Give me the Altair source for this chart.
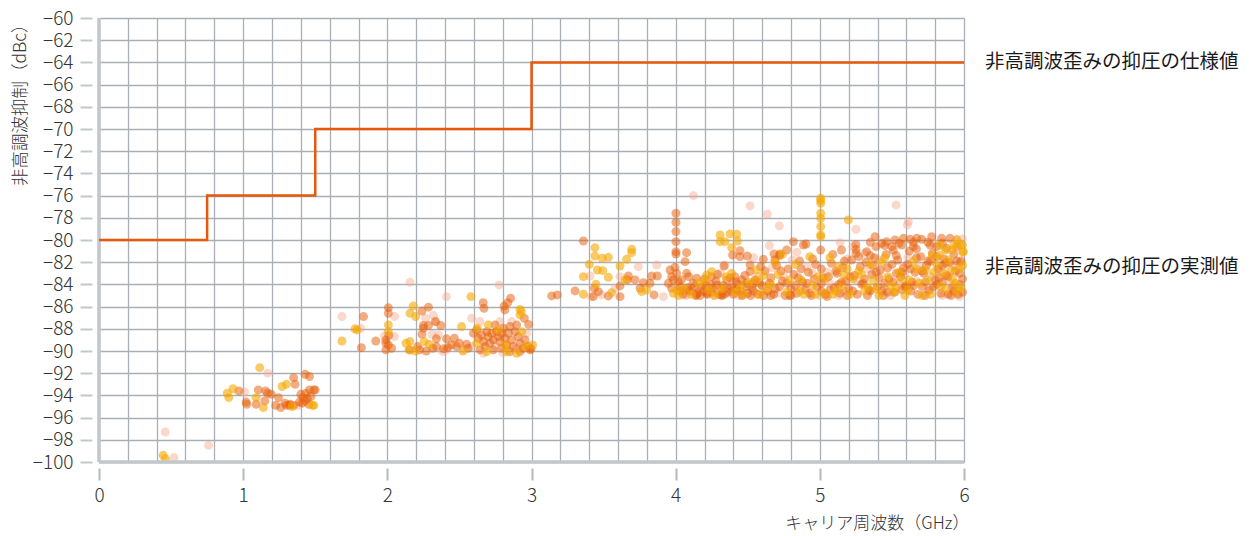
import altair as alt
import pandas as pd

FONT = "Noto Sans CJK JP"

# Specification step line (GHz, dBc)
spec_x = [0, 0.75, 1.5, 3, 6]
spec_y = [-80, -76, -70, -64, -64]

# Measured points, three series
orange_pts = [
    (1.43,-92.1),(1.46,-92.3),(1.35,-92.4),(1.36,-93.0),(0.97,-93.6),(1.105,-93.5),(1.155,-93.6),(1.17,-93.8),
    (1.195,-93.9),(1.245,-94.2),(1.02,-94.6),(1.025,-94.8),(1.09,-94.8),(1.15,-94.5),(1.225,-94.9),(1.26,-95.1),
    (1.29,-94.7),(1.32,-94.9),(1.325,-94.8),(1.40,-93.9),(1.415,-94.2),(1.435,-93.8),(1.445,-94.3),(1.46,-93.5),
    (1.49,-93.5),(1.50,-93.5),(1.41,-94.7),(1.455,-94.8),(1.39,-94.6),(1.43,-94.5),(1.47,-94.1),(1.35,-94.9),(1.30,-94.9),
    (2.665,-85.65),(2.67,-86.15),(2.855,-85.25),(2.835,-85.65),(2.81,-85.95),(2.815,-86.3),(2.95,-87.05),(2.98,-87.6),
    (1.835,-86.9),(1.82,-89.7),(1.92,-89.1),(2.007,-86.1),(2.007,-86.6),(2.01,-88.6),(1.99,-89.0),(1.99,-89.3),
    (1.99,-89.9),(2.007,-89.45),(2.03,-89.75),(2.24,-86.4),(2.285,-86.05),(2.25,-87.7),(2.25,-87.95),(2.285,-87.7),
    (2.335,-87.35),(2.37,-87.7),(2.24,-88.5),(2.34,-88.9),(2.41,-88.9),(2.465,-88.85),(2.157,-89.9),(2.21,-89.6),
    (2.225,-89.9),(2.27,-90.0),(2.315,-89.75),(2.34,-89.6),(2.39,-89.8),(2.42,-89.7),(2.445,-89.45),(2.48,-89.6),
    (2.5,-89.3),(2.55,-89.4),(2.56,-89.75),
    (2.597,-88.41),(2.62,-88.1),(2.631,-88.86),(2.654,-88.56),(2.666,-89.16),(2.689,-88.26),(2.701,-88.71),
    (2.712,-89.31),(2.724,-88.41),(2.735,-89.0),(2.747,-87.65),(2.758,-88.26),(2.77,-88.7),(2.781,-89.16),
    (2.793,-88.4),(2.805,-87.95),(2.816,-88.86),(2.828,-89.46),(2.84,-88.4),(2.851,-87.8),(2.862,-89.0),
    (2.874,-89.6),(2.886,-88.26),(2.909,-88.7),(2.92,-89.3),(2.943,-89.76),(2.955,-89.0),(2.978,-89.6),
    (2.99,-89.9),(2.678,-89.6),(2.643,-89.9),(2.735,-89.9),(2.793,-89.76),(2.851,-90.06),(2.92,-90.06),
    (2.997,-89.8),(2.897,-87.65),(3.14,-85.04),(3.179,-84.95),
    (4.002,-77.59),(4.002,-78.4),(4.002,-79.24),(4.002,-80.15),(4.002,-81.05),(4.002,-81.26),(3.36,-80.09),
    (3.302,-84.59),(3.436,-84.35),(3.464,-84.65),(3.429,-85.1),(3.533,-85.04),(3.614,-84.14),(3.614,-85.1),
    (3.672,-83.24),(3.665,-83.6),(3.718,-83.6),(3.776,-83.84),(3.753,-84.35),(3.822,-83.9),(3.85,-84.95),
    (3.873,-83.24),(3.834,-83.24),(3.961,-82.7),(3.995,-82.46),(3.972,-83.3),(4.007,-83.0),(3.984,-83.6),
    (4.018,-83.75),(3.949,-83.9),(4.03,-84.2),(3.972,-84.35),(4.076,-81.14),(4.065,-81.95),(4.076,-83.0),
    (4.146,-83.45),(4.088,-84.5),(4.146,-84.95),(4.192,-84.65),(4.25,-83.3),(4.285,-84.05),(4.319,-84.35),
    (4.354,-83.6),(4.388,-84.2),(4.423,-84.5),(4.458,-83.6),(4.493,-84.2),(4.539,-83.9),(4.446,-81.5),
    (4.516,-82.85),(4.215,-84.8),(4.319,-84.95),(4.446,-80.96),(4.395,-81.35),(4.516,-82.25),(4.335,-82.34),
    (4.497,-81.44),
    (5.006,-80.9),(5.251,-80.84),(4.817,-80.15),(4.886,-80.45),(4.904,-80.36),(4.77,-80.9),(4.724,-81.26),
    (4.682,-81.26),(4.608,-81.74),(4.689,-81.8),(5.383,-79.7),(5.429,-80.3),(5.464,-80.15),(5.522,-80.0),
    (5.58,-79.85),(5.626,-79.94),(5.672,-79.85),(5.707,-79.94),(5.776,-79.7),(5.845,-79.85),(5.903,-79.85),
    (5.499,-80.6),(5.568,-80.45),(5.649,-80.6),(5.765,-80.45),(5.811,-80.6),(5.88,-80.75),(5.95,-80.6),
    (5.39,-80.6),(5.325,-81.05),
    (4.05,-84.9),(4.10,-84.6),(4.12,-83.9),(4.15,-84.8),(4.18,-84.2),(4.20,-83.5),(4.22,-84.9),(4.26,-84.4),
    (4.28,-83.7),(4.30,-84.9),(4.33,-84.1),(4.36,-84.7),(4.38,-83.4),(4.40,-84.9),(4.43,-84.0),(4.45,-84.6),
    (4.48,-83.2),(4.50,-84.8),(4.53,-84.3),(4.55,-83.6),(4.57,-84.9),(4.60,-84.1),(4.62,-82.8),(4.64,-84.6),
    (4.66,-83.4),(4.68,-84.9),(4.70,-82.3),(4.72,-84.2),(4.74,-83.7),(4.76,-85.0),(4.78,-82.6),(4.80,-84.4),
    (4.82,-83.1),(4.84,-84.8),(4.86,-81.9),(4.88,-83.8),(4.90,-84.5),(4.92,-82.9),(4.94,-85.0),(4.96,-83.5),
    (4.98,-84.2),(5.01,-83.9),(5.01,-84.6),(5.01,-82.6),(5.04,-84.9),(5.06,-83.3),(5.08,-82.1),(5.10,-84.3),
    (5.12,-83.0),(5.14,-84.8),(5.16,-82.5),(5.18,-83.7),(5.20,-84.4),(5.22,-81.8),(5.24,-83.2),(5.26,-84.9),
    (5.28,-82.4),(5.30,-83.9),(5.32,-82.0),(5.34,-84.5),(5.36,-83.1),(5.38,-81.6),(5.40,-84.2),(5.42,-82.7),
    (5.44,-85.0),(5.46,-81.3),(5.48,-83.5),(5.50,-82.2),(5.52,-84.7),(5.54,-81.8),(5.56,-83.3),(5.58,-82.5),
    (5.60,-84.1),(5.62,-81.0),(5.64,-83.8),(5.66,-82.9),(5.68,-84.9),(5.70,-81.5),(5.72,-83.0),(5.74,-82.3),
    (5.76,-84.5),(5.78,-81.2),(5.80,-83.6),(5.82,-82.6),(5.84,-84.8),(5.86,-81.7),(5.88,-83.2),(5.90,-82.0),
    (5.92,-84.3),(5.94,-82.8),(5.96,-84.9),(5.98,-81.9),(5.99,-83.5),
    (4.04,-83.6),(4.08,-84.3),(4.14,-85.0),(4.24,-84.0),(4.34,-84.9),(4.42,-83.8),(4.52,-85.0),(4.58,-83.9),
    (4.66,-85.0),(4.72,-81.4),(4.80,-85.0),(4.85,-83.4),(4.95,-81.7),(5.05,-85.1),(5.15,-83.8),(5.25,-81.2),
    (5.33,-85.0),(5.39,-82.9),(5.45,-83.9),(5.51,-80.9),(5.57,-84.5),(5.61,-82.2),(5.67,-80.8),(5.71,-84.2),
    (5.75,-81.9),(5.81,-84.0),(5.85,-82.3),(5.89,-84.9),(5.93,-81.3),(5.97,-83.0),(5.47,-84.7),(5.53,-83.0),
    (5.63,-84.6),(5.73,-85.0),(5.83,-83.4),(5.91,-85.0),(5.35,-81.4),(5.29,-84.0),(5.19,-85.0),(5.09,-81.3),
    (4.03,-84.6),(4.09,-83.3),(4.13,-84.2),(4.17,-85.0),(4.21,-84.1),(4.25,-84.7),(4.29,-83.1),(4.32,-85.0),
    (4.37,-84.4),(4.41,-83.3),(4.46,-85.0),(4.49,-83.9),(4.54,-84.6),(4.59,-82.4),(4.61,-85.0),(4.65,-83.9),
    (4.69,-84.4),(4.73,-82.8),(4.77,-83.9),(4.79,-85.0),(4.83,-84.1),(4.87,-82.6),(4.91,-83.9),(4.93,-84.8),
    (4.97,-82.2),(5.02,-83.4),(5.07,-84.5),(5.11,-82.8),(5.13,-84.0),(5.17,-81.9),(5.21,-83.3),(5.23,-84.6),
    (5.27,-81.5),(5.31,-83.5),(5.35,-84.6),(5.37,-82.3),(5.41,-83.4),(5.43,-84.6),(5.47,-82.5),(5.51,-83.8),
    (5.53,-81.4),(5.57,-82.9),(5.59,-84.2),(5.63,-82.6),(5.65,-84.1),(5.67,-81.6),(5.71,-82.8),(5.73,-83.8),
    (5.77,-81.9),(5.79,-84.2),(5.81,-81.5),(5.85,-83.8),(5.87,-82.1),(5.89,-83.3),(5.93,-84.6),(5.95,-81.9),
    (5.97,-84.0),(5.99,-84.7),(5.55,-80.3),(5.45,-80.5),(5.65,-80.2),(5.75,-80.2),(5.85,-80.3),(5.35,-80.2),
    (5.25,-80.4),(5.15,-80.9),
]

gold_pts = [
    (1.115,-91.5),(1.27,-93.2),(1.30,-93.0),(0.93,-93.4),(0.89,-93.8),(0.90,-94.2),(1.09,-94.2),(1.14,-95.1),
    (1.48,-94.9),(1.49,-94.9),(0.445,-99.4),(0.46,-99.7),(1.34,-95.0),
    (2.58,-85.1),(2.92,-86.25),(2.93,-86.45),(2.92,-86.75),(1.775,-88.0),(1.79,-88.1),(1.685,-89.1),
    (2.007,-87.65),(2.007,-88.25),(2.18,-85.95),(2.157,-86.6),(2.197,-86.9),(2.515,-87.8),(2.13,-89.3),
    (2.157,-89.15),(2.255,-89.15),(2.29,-89.4),(2.525,-90.0),(2.15,-89.9),(2.195,-90.0),(2.624,-87.95),
    (2.701,-87.65),(2.77,-88.1),(2.816,-89.46),(2.897,-90.2),(2.932,-88.26),(2.955,-89.6),(3.008,-89.46),
    (2.828,-90.06),(2.689,-90.06),(2.62,-89.3),
    (3.44,-80.69),(3.44,-81.44),(3.491,-81.65),(3.533,-81.56),(3.695,-80.84),(3.695,-81.14),(3.66,-81.74),
    (3.401,-82.19),(3.457,-82.7),(3.494,-82.76),(3.36,-83.3),(3.533,-83.36),(3.447,-83.99),(3.614,-82.34),
    (3.649,-83.6),(3.36,-84.89),(3.556,-84.74),(3.799,-84.5),(4.007,-84.5),(3.984,-84.8),(3.764,-84.65),
    (4.308,-79.55),(4.377,-79.45),(4.423,-79.48),(4.342,-80.15),(4.308,-80.15),(4.428,-80.09),(4.388,-80.69),
    (4.215,-83.15),(4.25,-82.85),(4.203,-83.6),(4.388,-83.0),(4.562,-83.6),
    (5.006,-76.24),(5.006,-76.45),(5.006,-76.69),(5.006,-77.59),(5.006,-78.04),(5.006,-78.79),(5.006,-79.54),
    (5.006,-79.7),(5.198,-78.19),(5.834,-80.45),(5.95,-80.0),(5.99,-80.45),(5.915,-80.9),(5.996,-81.05),
    (4.06,-84.4),(4.16,-83.9),(4.27,-85.0),(4.35,-83.3),(4.47,-84.9),(4.56,-82.7),(4.63,-84.4),(4.71,-83.1),
    (4.77,-84.7),(4.83,-82.2),(4.89,-84.9),(4.93,-81.5),(4.99,-83.3),(5.03,-84.8),(5.07,-81.6),(5.11,-84.6),
    (5.17,-83.2),(5.21,-84.9),(5.27,-82.8),(5.31,-84.6),(5.37,-83.6),(5.41,-85.0),(5.43,-82.0),(5.49,-84.1),
    (5.55,-82.9),(5.59,-85.0),(5.65,-81.9),(5.69,-83.9),(5.73,-82.7),(5.77,-84.9),(5.79,-82.9),(5.83,-81.4),
    (5.87,-84.4),(5.91,-82.7),(5.95,-84.6),(5.99,-82.3),(5.97,-80.4),(5.99,-81.1),(5.94,-83.9),(5.86,-83.0),
    (5.62,-83.6),(5.53,-84.3),(5.45,-81.6),(5.39,-84.4),(5.23,-83.5),(5.13,-82.4),(4.97,-84.9),(4.87,-83.6),
    (4.61,-83.2),(4.45,-84.2),(4.74,-81.3),(4.69,-82.0),
    (4.02,-85.0),(4.11,-84.9),(4.23,-84.5),(4.32,-84.4),(4.41,-84.7),(4.51,-83.8),(4.58,-84.9),(4.66,-84.0),
    (4.79,-83.6),(4.86,-84.6),(4.95,-84.1),(5.04,-83.5),(5.09,-84.9),(5.15,-84.3),(5.19,-82.6),(5.29,-83.1),
    (5.33,-84.2),(5.35,-82.2),(5.47,-83.3),(5.51,-84.7),(5.57,-83.5),(5.61,-84.5),(5.67,-82.6),(5.71,-85.0),
    (5.75,-83.6),(5.81,-82.2),(5.84,-84.2),(5.89,-81.8),(5.92,-83.5),(5.97,-82.6),(5.98,-84.3),(5.93,-80.5),
    (5.87,-80.9),(5.78,-81.4),
]

pale_pts = [
    (1.17,-92.0),(1.01,-93.7),(1.385,-94.9),(0.46,-97.3),(0.76,-98.5),(0.52,-99.6),
    (2.157,-83.8),(2.775,-84.05),(2.41,-85.1),(1.685,-86.9),(1.815,-87.95),(2.05,-86.9),(2.05,-88.7),
    (1.98,-88.65),(2.265,-87.05),(2.32,-86.8),(2.33,-87.35),(2.31,-88.5),(2.355,-88.55),(2.385,-90.05),
    (2.41,-89.9),(2.525,-89.9),(2.585,-87.05),(2.643,-87.35),(2.781,-87.35),(2.862,-87.35),(2.966,-88.4),
    (2.747,-89.6),(2.666,-90.2),(2.585,-89.6),(2.897,-89.76),(2.8,-90.15),
    (4.123,-76.0),(4.516,-76.93),(3.406,-83.24),(3.741,-82.4),(3.868,-82.25),(3.614,-83.3),(3.915,-85.1),
    (3.413,-85.1),(3.487,-84.95),(3.579,-84.35),(4.342,-82.25),(4.469,-84.95),(4.261,-84.95),(4.076,-84.95),
    (4.636,-77.68),(4.719,-78.73),(5.251,-79.03),(5.529,-76.84),(5.614,-78.34),(5.607,-78.64),(5.14,-80.24),
    (5.95,-79.94),
    (4.07,-85.0),(4.19,-84.5),(4.31,-83.0),(4.44,-85.0),(4.54,-81.6),(4.59,-84.7),(4.67,-82.5),(4.75,-83.3),
    (4.81,-81.8),(4.87,-84.2),(4.91,-82.4),(5.00,-85.0),(5.05,-82.9),(5.13,-85.0),(5.19,-81.7),(5.25,-83.6),
    (5.33,-82.6),(5.41,-81.8),(5.49,-85.0),(5.55,-84.0),(5.61,-81.6),(5.69,-82.3),(5.77,-83.3),(5.85,-85.0),
    (5.93,-82.3),(5.97,-85.1),(5.99,-79.9),(5.79,-80.3),(5.23,-80.6),(4.84,-81.1),(4.65,-80.5),
    (4.15,-84.3),(4.39,-84.6),(4.57,-83.3),(4.71,-84.8),(4.95,-83.0),(5.07,-83.9),(5.17,-84.6),(5.31,-81.2),
    (5.45,-84.3),(5.59,-83.1),(5.67,-83.7),(5.75,-84.6),(5.83,-82.8),(5.91,-83.9),(5.97,-82.0),
]

groups = ["pale", "orange", "gold"]
group_colors = ["#f5a98c", "#e8620c", "#f5a600"]
group_opacity = [0.45, 0.6, 0.65]

y_ticks = list(range(-100, -59, 2))
x_grid = [round(i * 0.2, 1) for i in range(31)]

labels_text = ["非高調波歪みの抑圧の仕様値", "非高調波歪みの抑圧の実測値"]
labels_y = [-64, -82.4]

rows = []
for name, pts in [("pale", pale_pts), ("orange", orange_pts), ("gold", gold_pts)]:
    for gx, gy in pts:
        rows.append({"f": gx, "v": gy, "g": name})
pts_df = pd.DataFrame(rows)
spec_df = pd.DataFrame({"f": spec_x, "v": spec_y})
lab_df = pd.DataFrame({"f": [6, 6], "v": labels_y, "t": labels_text})

xscale = alt.Scale(domain=[0, 6], nice=False, zero=False)
yscale = alt.Scale(domain=[-100, -60], nice=False, zero=False)

int_test = "abs(datum.value - round(datum.value)) < 0.001"

x_axis = alt.Axis(
    values=x_grid, tickCount=200, offset=6, domain=False, tickSize=12, tickWidth=2, tickColor="#b3b9bd",
    tickOpacity={"condition": {"test": int_test, "value": 1}, "value": 0},
    labelExpr=f"{int_test} ? format(datum.value, 'd') : ''",
    labelFontSize=19, labelColor="#333333", labelPadding=6, labelFont=FONT, labelFontWeight=300,
    labelOverlap=False, labelFlush=False,
    grid=True, gridColor="#a9afb4", gridWidth=1.3,
    title="キャリア周波数（GHz）", titleFont=FONT, titleFontSize=17, titleFontWeight=300,
    titleColor="#333333", titleAnchor="end", titleAlign="right", titleBaseline="middle",
    titleX=870, titleY=55,
)
y_axis = alt.Axis(
    values=y_ticks, tickCount=200, offset=7, domain=False, tickSize=12, tickWidth=2, tickColor="#c3c8cc",
    labelExpr="'−' + abs(datum.value)",
    labelFontSize=19, labelColor="#333333", labelPadding=7, labelFont=FONT, labelFontWeight=300,
    labelOverlap=False, labelFlush=False,
    grid=True, gridColor="#a9afb4", gridWidth=1.3,
    title="非高調波抑制（dBc）", titleFont=FONT, titleFontSize=17.5, titleFontWeight=300,
    titleColor="#333333", titleAnchor="end", titleAngle=270, titleAlign="right", titleBaseline="middle",
    titleX=-72, titleY=-3,
)

base_pts = alt.Chart(pts_df).mark_circle(size=80, stroke=None).encode(
    x=alt.X("f:Q", scale=xscale, axis=x_axis),
    y=alt.Y("v:Q", scale=yscale, axis=y_axis),
    color=alt.Color("g:N", scale=alt.Scale(domain=groups, range=group_colors), legend=None),
    opacity=alt.Opacity("g:N", scale=alt.Scale(domain=groups, range=group_opacity), legend=None),
    order=alt.Order("ord:Q"),
).transform_calculate(ord="datum.g === 'pale' ? 0 : (datum.g === 'orange' ? 1 : 2)")

border_left = alt.Chart(spec_df).mark_rule(color="#c2c7cb", strokeWidth=2.5).encode(
    x=alt.datum(0, scale=xscale)
)
border_bottom = alt.Chart(spec_df).mark_rule(color="#c2c7cb", strokeWidth=2.5).encode(
    y=alt.datum(-100, scale=yscale)
)

spec_line = alt.Chart(spec_df).mark_line(interpolate="step-after", color="#e8580c", strokeWidth=2.5).encode(
    x=alt.X("f:Q", scale=xscale), y=alt.Y("v:Q", scale=yscale)
)

labels = alt.Chart(lab_df).mark_text(
    align="left", baseline="middle", dx=21, fontSize=19.5, font=FONT, color="#1a1a1a"
).encode(x=alt.X("f:Q", scale=xscale), y=alt.Y("v:Q", scale=yscale), text="t:N")

chart = alt.layer(base_pts, border_left, border_bottom, spec_line, labels).properties(
    width=865, height=444,
    autosize=alt.AutoSizeParams(type="none"),
    padding={"left": 91, "top": 10, "right": 278, "bottom": 70},
).configure_view(stroke=None).configure(font=FONT)

chart.save("out.html", embed_options={"renderer": "svg", "actions": False})
